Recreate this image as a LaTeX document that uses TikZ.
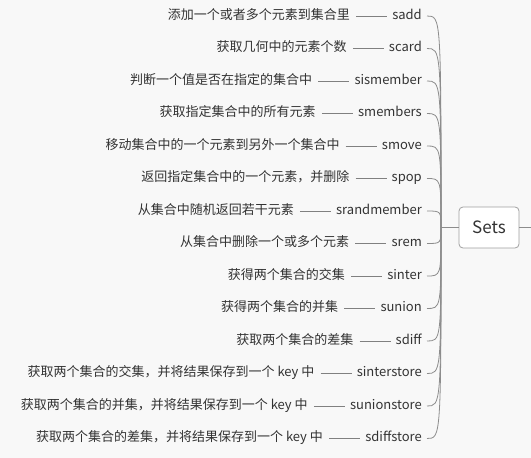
\documentclass[tikz,border=0pt]{standalone}
\usepackage{fontspec}
\setmainfont{Noto Sans CJK SC}
\usetikzlibrary{positioning}
\definecolor{bgc}{HTML}{F8F8F8}
\definecolor{txt}{HTML}{333333}
\definecolor{leafc}{HTML}{808080}
\definecolor{branchc}{HTML}{8C8C8C}
\definecolor{boxc}{HTML}{A0A0A0}

\begin{document}
\begin{tikzpicture}[x=1pt,y=-1pt,
  cmd/.style={anchor=east,inner xsep=5pt,inner ysep=0pt,text height=9.5pt,text depth=3pt,font=\fontsize{13}{15}\selectfont,text=txt},
  desc/.style={inner xsep=6pt,inner ysep=0pt,text height=9.5pt,text depth=3pt,font=\fontsize{13}{15}\selectfont,text=txt},
  leaf/.style={draw=leafc,line width=0.8pt},
  branch/.style={draw=branchc,line width=0.8pt},
  setsbox/.style={draw=boxc,fill=white,line width=0.8pt,rounded corners=4pt,minimum width=60pt,minimum height=41pt,font=\fontsize{17}{20}\selectfont,text=txt}]
\fill[bgc] (0,0) rectangle (531,458);
\useasboundingbox (0,0) rectangle (531,458);

% root
\node[setsbox] at (489,227.5) (sets) {Sets};
\coordinate (hub) at (441,227.5);
\coordinate (out) at (531,227.5);

% commands
\node[cmd] at (427,16) (c1) {sadd};
\node[cmd] at (427,48.5) (c2) {scard};
\node[cmd] at (427,81) (c3) {sismember};
\node[cmd] at (427,113.5) (c4) {smembers};
\node[cmd] at (427,146) (c5) {smove};
\node[cmd] at (427,178.5) (c6) {spop};
\node[cmd] at (427,211) (c7) {srandmember};
\node[cmd] at (427,243.5) (c8) {srem};
\node[cmd] at (427,276) (c9) {sinter};
\node[cmd] at (427,308.5) (c10) {sunion};
\node[cmd] at (427,341) (c11) {sdiff};
\node[cmd] at (427,373.5) (c12) {sinterstore};
\node[cmd] at (427,406) (c13) {sunionstore};
\node[cmd] at (427,438.5) (c14) {sdiffstore};

% descriptions
\node[desc,left=31pt of c1] (d1) {添加一个或者多个元素到集合里};
\node[desc,left=31pt of c2] (d2) {获取几何中的元素个数};
\node[desc,left=31pt of c3] (d3) {判断一个值是否在指定的集合中};
\node[desc,left=31pt of c4] (d4) {获取指定集合中的所有元素};
\node[desc,left=31pt of c5] (d5) {移动集合中的一个元素到另外一个集合中};
\node[desc,left=31pt of c6] (d6) {返回指定集合中的一个元素，并删除};
\node[desc,left=31pt of c7] (d7) {从集合中随机返回若干元素};
\node[desc,left=31pt of c8] (d8) {从集合中删除一个或多个元素};
\node[desc,left=31pt of c9] (d9) {获得两个集合的交集};
\node[desc,left=31pt of c10] (d10) {获得两个集合的并集};
\node[desc,left=31pt of c11] (d11) {获取两个集合的差集};
\node[desc,left=31pt of c12] (d12) {获取两个集合的交集，并将结果保存到一个 key 中};
\node[desc,left=31pt of c13] (d13) {获取两个集合的并集，并将结果保存到一个 key 中};
\node[desc,left=31pt of c14] (d14) {获取两个集合的差集，并将结果保存到一个 key 中};

\draw[leaf] (d1) -- (c1);
\draw[leaf] (d2) -- (c2);
\draw[leaf] (d3) -- (c3);
\draw[leaf] (d4) -- (c4);
\draw[leaf] (d5) -- (c5);
\draw[leaf] (d6) -- (c6);
\draw[leaf] (d7) -- (c7);
\draw[leaf] (d8) -- (c8);
\draw[leaf] (d9) -- (c9);
\draw[leaf] (d10) -- (c10);
\draw[leaf] (d11) -- (c11);
\draw[leaf] (d12) -- (c12);
\draw[leaf] (d13) -- (c13);
\draw[leaf] (d14) -- (c14);

% branches to the root
\draw[branch] (hub) .. controls (hub |- c1) .. (c1.east);
\draw[branch] (hub) .. controls (hub |- c2) .. (c2.east);
\draw[branch] (hub) .. controls (hub |- c3) .. (c3.east);
\draw[branch] (hub) .. controls (hub |- c4) .. (c4.east);
\draw[branch] (hub) .. controls (hub |- c5) .. (c5.east);
\draw[branch] (hub) .. controls (hub |- c6) .. (c6.east);
\draw[branch] (hub) .. controls (hub |- c7) .. (c7.east);
\draw[branch] (hub) .. controls (hub |- c8) .. (c8.east);
\draw[branch] (hub) .. controls (hub |- c9) .. (c9.east);
\draw[branch] (hub) .. controls (hub |- c10) .. (c10.east);
\draw[branch] (hub) .. controls (hub |- c11) .. (c11.east);
\draw[branch] (hub) .. controls (hub |- c12) .. (c12.east);
\draw[branch] (hub) .. controls (hub |- c13) .. (c13.east);
\draw[branch] (hub) .. controls (hub |- c14) .. (c14.east);
\draw[branch] (hub) -- (sets);
\draw[branch,line width=1.6pt] (sets) -- (out);
\end{tikzpicture}
\end{document}
